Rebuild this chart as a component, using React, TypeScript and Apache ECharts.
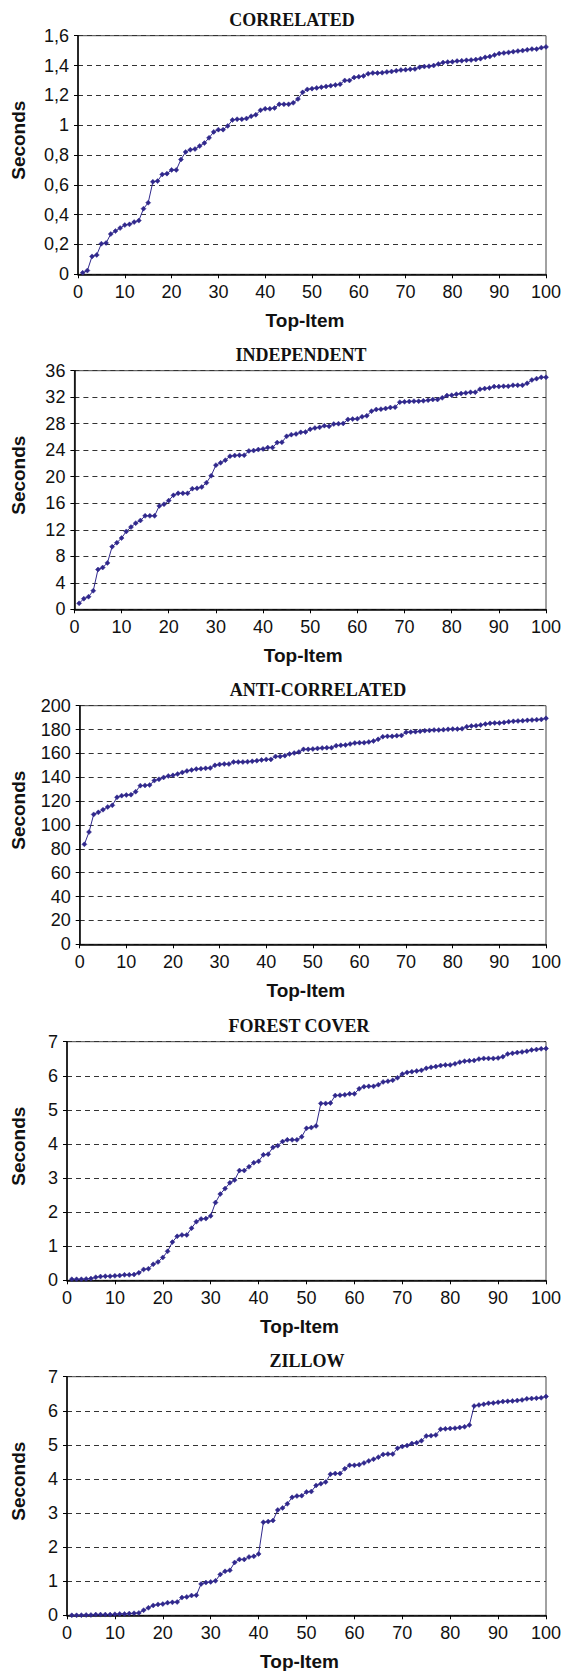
import React, { useEffect, useRef } from "react";
import * as echarts from "echarts";

const topItems = [
  1, 2, 3, 4, 5, 6, 7, 8, 9, 10, 11, 12, 13, 14, 15, 16, 17, 18, 19, 20,
  21, 22, 23, 24, 25, 26, 27, 28, 29, 30, 31, 32, 33, 34, 35, 36, 37, 38, 39, 40,
  41, 42, 43, 44, 45, 46, 47, 48, 49, 50, 51, 52, 53, 54, 55, 56, 57, 58, 59, 60,
  61, 62, 63, 64, 65, 66, 67, 68, 69, 70, 71, 72, 73, 74, 75, 76, 77, 78, 79, 80,
  81, 82, 83, 84, 85, 86, 87, 88, 89, 90, 91, 92, 93, 94, 95, 96, 97, 98, 99, 100,
];

const correlated = [
  0.01, 0.025, 0.12, 0.13, 0.205, 0.21, 0.27, 0.29, 0.31, 0.33,
  0.335, 0.35, 0.36, 0.44, 0.48, 0.62, 0.625, 0.67, 0.675, 0.7,
  0.7, 0.77, 0.82, 0.835, 0.84, 0.86, 0.88, 0.915, 0.955, 0.97,
  0.97, 0.995, 1.035, 1.04, 1.04, 1.045, 1.06, 1.07, 1.1, 1.11,
  1.11, 1.115, 1.14, 1.14, 1.14, 1.15, 1.175, 1.22, 1.24, 1.245,
  1.25, 1.255, 1.26, 1.265, 1.27, 1.275, 1.3, 1.3, 1.32, 1.325,
  1.33, 1.345, 1.35, 1.35, 1.352, 1.357, 1.36, 1.365, 1.37, 1.372,
  1.375, 1.377, 1.388, 1.393, 1.395, 1.4, 1.41, 1.42, 1.423, 1.425,
  1.43, 1.432, 1.435, 1.437, 1.44, 1.446, 1.455, 1.46, 1.47, 1.48,
  1.484, 1.488, 1.493, 1.497, 1.5, 1.505, 1.51, 1.51, 1.52, 1.525,
];

const independent = [
  0.9, 1.6, 1.9, 2.8, 6.0, 6.3, 7.0, 9.45, 10.05, 10.75,
  11.75, 12.4, 13.0, 13.4, 14.1, 14.1, 14.1, 15.6, 15.85, 16.4,
  17.2, 17.5, 17.5, 17.5, 18.2, 18.25, 18.45, 19.1, 20.15, 21.75,
  22.1, 22.5, 23.1, 23.2, 23.25, 23.25, 23.9, 23.95, 24.1, 24.2,
  24.4, 24.4, 25.15, 25.2, 26.1, 26.35, 26.45, 26.7, 26.75, 27.15,
  27.35, 27.45, 27.7, 27.6, 27.95, 28.0, 28.05, 28.65, 28.7, 28.75,
  29.05, 29.2, 29.9, 30.15, 30.2, 30.3, 30.45, 30.5, 31.25, 31.3,
  31.35, 31.4, 31.4, 31.45, 31.55, 31.65, 31.65, 31.9, 32.25, 32.3,
  32.45, 32.55, 32.65, 32.75, 32.75, 33.2, 33.3, 33.4, 33.6, 33.6,
  33.65, 33.65, 33.8, 33.8, 33.8, 34.1, 34.6, 34.8, 35.0, 35.0,
];

const antiCorrelated = [
  83.8, 94.1, 108.9, 110.6, 112.8, 115.1, 116.5, 123.2, 124.6, 125.1,
  125.4, 127.9, 133.0, 133.2, 133.5, 137.2, 138.3, 139.9, 141.1, 141.6,
  142.7, 144.1, 145.3, 146.1, 146.9, 147.2, 147.5, 147.8, 150.0, 150.8,
  151.1, 151.1, 152.8, 152.8, 152.8, 153.1, 153.4, 153.9, 154.5, 155.0,
  155.0, 157.5, 157.5, 158.1, 159.5, 160.3, 161.2, 163.4, 163.4, 163.7,
  164.2, 164.5, 164.8, 164.8, 166.5, 166.8, 167.0, 167.9, 168.7, 169.0,
  169.0, 169.6, 170.4, 171.8, 174.0, 174.3, 174.3, 174.9, 175.1, 177.7,
  177.9, 178.2, 178.5, 179.1, 179.3, 179.6, 179.6, 179.9, 180.2, 180.4,
  180.4, 180.7, 182.4, 183.0, 183.2, 183.8, 184.6, 185.2, 185.5, 185.5,
  186.0, 186.6, 186.9, 187.2, 187.4, 187.7, 188.0, 188.3, 188.5, 189.4,
];

const forestCover = [
  0.03, 0.03, 0.03, 0.04, 0.05, 0.09, 0.11, 0.12, 0.12, 0.13,
  0.14, 0.16, 0.16, 0.17, 0.22, 0.32, 0.34, 0.47, 0.54, 0.67,
  0.85, 1.12, 1.29, 1.33, 1.33, 1.53, 1.72, 1.8, 1.81, 1.89,
  2.28, 2.53, 2.69, 2.86, 2.94, 3.22, 3.22, 3.33, 3.45, 3.49,
  3.68, 3.7, 3.9, 3.95, 4.07, 4.12, 4.12, 4.12, 4.21, 4.46,
  4.48, 4.53, 5.19, 5.19, 5.2, 5.42, 5.43, 5.44, 5.47, 5.47,
  5.62, 5.68, 5.69, 5.69, 5.74, 5.82, 5.84, 5.87, 5.94, 6.05,
  6.1, 6.12, 6.14, 6.16, 6.22, 6.25, 6.27, 6.3, 6.32, 6.32,
  6.35, 6.4, 6.43, 6.44, 6.45, 6.49, 6.51, 6.51, 6.51, 6.52,
  6.56, 6.64, 6.66, 6.68, 6.7, 6.72, 6.76, 6.77, 6.79, 6.8,
];

const zillow = [
  0.0, 0.0, 0.005, 0.01, 0.01, 0.02, 0.02, 0.02, 0.02, 0.03,
  0.04, 0.04, 0.05, 0.06, 0.07, 0.15, 0.22, 0.29, 0.32, 0.33,
  0.37, 0.38, 0.39, 0.52, 0.54, 0.58, 0.59, 0.92, 0.96, 0.98,
  1.01, 1.2, 1.29, 1.32, 1.55, 1.64, 1.64, 1.71, 1.73, 1.8,
  2.73, 2.75, 2.78, 3.09, 3.15, 3.27, 3.46, 3.5, 3.51, 3.62,
  3.63, 3.81, 3.86, 3.91, 4.14, 4.16, 4.16, 4.3, 4.4, 4.4,
  4.42, 4.47, 4.53, 4.58, 4.64, 4.72, 4.73, 4.73, 4.9, 4.95,
  4.98, 5.04, 5.06, 5.12, 5.26, 5.27, 5.29, 5.46, 5.47, 5.48,
  5.49, 5.51, 5.53, 5.58, 6.14, 6.17, 6.19, 6.22, 6.23, 6.25,
  6.27, 6.28, 6.29, 6.3, 6.32, 6.35, 6.36, 6.37, 6.38, 6.42,
];

const chartTitles = ["CORRELATED", "INDEPENDENT", "ANTI-CORRELATED", "FOREST COVER", "ZILLOW"];
const seriesValues = [correlated, independent, antiCorrelated, forestCover, zillow];
const yMaxes = [1.6, 36, 200, 7, 7];
const yIntervals = [0.2, 4, 20, 1, 1];
const xMin = 0;
const xMax = 100;
const xInterval = 10;
const xAxisTitle = "Top-Item";
const yAxisTitle = "Seconds";

// layout (pixels)
const gridLefts = [78, 74.4, 79.7, 67, 67];
const gridTops = [35.7, 370.7, 705.7, 1041.7, 1376.7];
const gridRight = 546;
const gridHeight = 238.6;
const titleXs = [292, 301, 318, 299, 307];

const LINE_COLOR = "#30288c";
const SANS = "'Liberation Sans', Arial, sans-serif";
const SERIF = "'Liberation Serif', 'Times New Roman', serif";

function fmtComma(v: number) {
  const r = Math.round(v * 10) / 10;
  return String(r).replace(".", ",");
}

export default function App() {
  const ref = useRef<HTMLDivElement>(null);
  useEffect(() => {
    if (!ref.current) return;
    const chart = echarts.init(ref.current, undefined, { renderer: "svg" });
    const grids: any[] = [];
    const xAxes: any[] = [];
    const yAxes: any[] = [];
    const series: any[] = [];
    const graphics: any[] = [];
    for (let i = 0; i < 5; i++) {
      const left = gridLefts[i];
      const top = gridTops[i];
      grids.push({
        left,
        top,
        width: gridRight - left,
        height: gridHeight,
        show: true,
        borderColor: "#444",
        borderWidth: 1,
        backgroundColor: "transparent",
        containLabel: false,
      });
      xAxes.push({
        type: "value",
        gridIndex: i,
        min: xMin,
        max: xMax,
        interval: xInterval,
        axisLine: { show: true, onZero: false, lineStyle: { color: "#000", width: 1.5 } },
        axisTick: { show: true, inside: false, length: 4, lineStyle: { color: "#000", width: 1 } },
        axisLabel: { color: "#111", fontFamily: SANS, fontSize: 18, margin: 9 },
        splitLine: { show: false },
      });
      yAxes.push({
        type: "value",
        gridIndex: i,
        min: 0,
        max: yMaxes[i],
        interval: yIntervals[i],
        axisLine: { show: true, lineStyle: { color: "#000", width: 1.5 } },
        axisTick: { show: true, inside: false, length: 4, lineStyle: { color: "#000", width: 1 } },
        axisLabel: {
          color: "#111",
          fontFamily: SANS,
          fontSize: 18,
          margin: 9,
          formatter: i === 0 ? (v: number) => fmtComma(v) : (v: number) => String(v),
        },
        splitLine: { show: true, lineStyle: { color: "#333", width: 1, type: [5, 4] } },
      });
      series.push({
        type: "line",
        xAxisIndex: i,
        yAxisIndex: i,
        data: topItems.map((x, k) => [x, seriesValues[i][k]]),
        symbol: "diamond",
        symbolSize: 5,
        showSymbol: true,
        lineStyle: { color: LINE_COLOR, width: 1 },
        itemStyle: { color: LINE_COLOR, borderColor: LINE_COLOR, borderWidth: 0.5 },
      });
      graphics.push({
        type: "text",
        x: titleXs[i],
        y: top - 15.5,
        style: {
          text: chartTitles[i],
          fontFamily: SERIF,
          fontWeight: "bold",
          fontSize: 18,
          fill: "#111",
          align: "center",
          verticalAlign: "middle",
        },
      });
      graphics.push({
        type: "text",
        x: 18,
        y: top + 104.5,
        rotation: Math.PI / 2,
        style: {
          text: yAxisTitle,
          fontFamily: SANS,
          fontWeight: "bold",
          fontSize: 19,
          fill: "#111",
          align: "center",
          verticalAlign: "middle",
        },
      });
      graphics.push({
        type: "text",
        x: (left + gridRight) / 2 - 7,
        y: top + gridHeight + 46,
        style: {
          text: xAxisTitle,
          fontFamily: SANS,
          fontWeight: "bold",
          fontSize: 19,
          fill: "#111",
          align: "center",
          verticalAlign: "middle",
        },
      });
    }
    chart.setOption({
      animation: false,
      backgroundColor: "#fff",
      grid: grids,
      xAxis: xAxes,
      yAxis: yAxes,
      series,
      graphic: graphics,
    });
    return () => chart.dispose();
  }, []);
  return (
    <div
      ref={ref}
      style={{ position: "absolute", left: 0, top: 0, width: 568, height: 1671 }}
    />
  );
}
